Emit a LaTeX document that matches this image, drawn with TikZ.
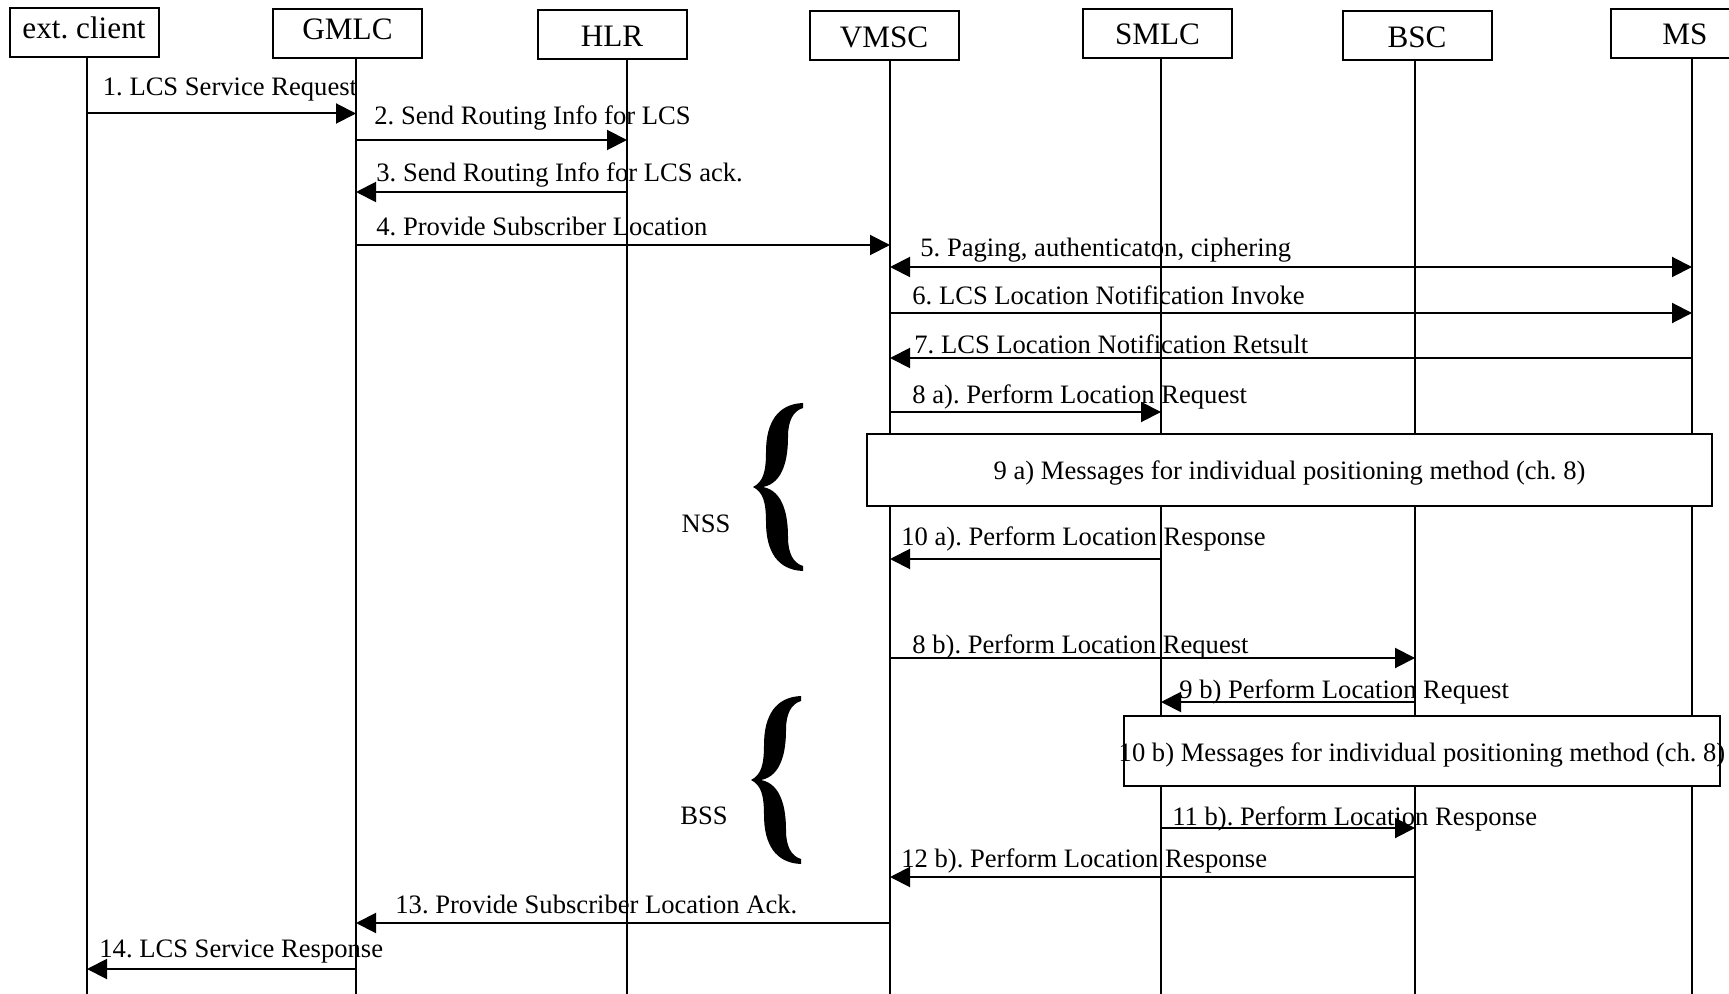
\documentclass[tikz,border=0pt]{standalone}
\usepackage{fontspec}
\setmainfont{Liberation Serif}
\usepackage{tikz}
\usetikzlibrary{arrows.meta}
\frenchspacing
\tikzstyle{head} = [rectangle, minimum width=74.5pt, minimum height=24.5pt, text centered, draw=black, line width=1pt, text height=13pt, text depth=1.5pt, font=\fontsize{15.6}{18}\selectfont]
\tikzstyle{life} = [line width=0.7pt]
\tikzstyle{msg} = [line width=1pt, -{Triangle[length=10pt, width=10pt]}]
\tikzstyle{both} = [line width=1pt, {Triangle[length=10pt, width=10pt]}-{Triangle[length=10pt, width=10pt]}]
\tikzstyle{msgtext} = [anchor=west, inner sep=0pt, yshift=-1.5pt, font=\fontsize{13.3}{16}\selectfont]
\tikzstyle{method} = [rectangle, draw=black, fill=white, line width=1pt]
\newcommand{\curlybrace}[1]{\fill[shift={(#1)}] (0,0) .. controls (10,-5) and (13,-15) .. (13,-35)
  .. controls (13,-65) and (25,-83) .. (50,-84) -- (50,-79) .. controls (40,-76) and (35,-66) .. (35,-50)
  .. controls (35,-30) and (31,-4) .. (10,0) .. controls (31,4) and (35,30) .. (35,50)
  .. controls (35,66) and (40,76) .. (50,79) -- (50,84) .. controls (25,83) and (13,65) .. (13,35)
  .. controls (13,15) and (10,5) .. (0,0) -- cycle;}
\begin{document}
\begin{tikzpicture}[x=0.5pt, y=-0.5pt]
    \useasboundingbox (0,0) rectangle (1729,994);

    \node(Client)[head] at (84,32.5) {\raisebox{2.7pt}{ext. client}};
    \node(GMLC)[head] at (347.5,33.5) {\raisebox{2.7pt}{GMLC}};
    \node(HLR)[head] at (612,35) {HLR};
    \node(VMSC)[head] at (884,36) {VMSC};
    \node(SMLC)[head] at (1157.5,33.5) {SMLC};
    \node(BSC)[head] at (1417,36) {BSC};
    \node(MS)[head] at (1685,33.5) {MS};

    \coordinate(lClient) at (87,0);
    \coordinate(lGMLC) at (356,0);
    \coordinate(lHLR) at (627,0);
    \coordinate(lVMSC) at (890,0);
    \coordinate(lSMLC) at (1161,0);
    \coordinate(lBSC) at (1415,0);
    \coordinate(lMS) at (1692,0);

    \foreach \n in {Client,GMLC,HLR,VMSC,SMLC,BSC,MS}
      \draw[life] (\n.south -| l\n) -- (l\n |- 0,994);

    \draw[msg] (lClient |- 0,113.5) -- (lGMLC |- 0,113.5);
    \node(m1)[msgtext] at (102.5,87) {1. LCS Service Request};

    \draw[msg] (lGMLC |- 0,140) -- (lHLR |- 0,140);
    \node(m2)[msgtext] at (374,115) {2. Send Routing Info for LCS};

    \draw[msg] (lHLR |- 0,192) -- (lGMLC |- 0,192);
    \node(m3)[msgtext] at (376,172) {3. Send Routing Info for LCS ack.};

    \draw[msg] (lGMLC |- 0,245) -- (lVMSC |- 0,245);
    \node(m4)[msgtext] at (376,223) {4. Provide Subscriber Location};

    \draw[both] (lVMSC |- 0,267) -- (lMS |- 0,267);
    \node(m5)[msgtext] at (920,247) {5. Paging, authenticaton, ciphering};

    \draw[msg] (lVMSC |- 0,313) -- (lMS |- 0,313);
    \node(m6)[msgtext] at (912,292) {6. LCS Location Notification Invoke};

    \draw[msg] (lMS |- 0,358) -- (lVMSC |- 0,358);
    \node(m7)[msgtext] at (914,341) {7. LCS Location Notification Retsult};

    \draw[msg] (lVMSC |- 0,412) -- (lSMLC |- 0,412);
    \node(m8a)[msgtext] at (912,394) {8 a). Perform Location Request};

    \node(Box9a)[method, minimum width=422.5pt, minimum height=36pt] at (1289.5,470) {};
    \node(m9a)[font=\fontsize{13.3}{16}\selectfont, yshift=-1.5pt] at (Box9a) {9 a) Messages for individual positioning method (ch. 8)};

    \draw[msg] (lSMLC |- 0,559) -- (lVMSC |- 0,559);
    \node(m10a)[msgtext] at (901,536) {10 a). Perform Location Response};

    \curlybrace{753,487}
    \node(NSS)[font=\fontsize{13.3}{16}\selectfont] at (706,524) {NSS};

    \draw[msg] (lVMSC |- 0,658) -- (lBSC |- 0,658);
    \node(m8b)[msgtext] at (912,644) {8 b). Perform Location Request};

    \draw[msg] (lBSC |- 0,702) -- (lSMLC |- 0,702);
    \node(m9b)[msgtext] at (1179,689) {9 b) Perform Location Request};

    \node(Box10b)[method, minimum width=298pt, minimum height=35pt] at (1422,751) {};
    \node(m10b)[font=\fontsize{13.3}{16}\selectfont, yshift=-2pt] at (Box10b) {10 b) Messages for individual positioning method (ch. 8)};

    \draw[msg] (lSMLC |- 0,828) -- (lBSC |- 0,828);
    \node(m11b)[msgtext] at (1172,816) {11 b). Perform Location Response};

    \draw[msg] (lBSC |- 0,877) -- (lVMSC |- 0,877);
    \node(m12b)[msgtext] at (901,858) {12 b). Perform Location Response};

    \curlybrace{751,780}
    \node(BSS)[font=\fontsize{13.3}{16}\selectfont] at (704,816) {BSS};

    \draw[msg] (lVMSC |- 0,923) -- (lGMLC |- 0,923);
    \node(m13)[msgtext] at (395,901) {13. Provide Subscriber Location Ack.};

    \draw[msg] (lGMLC |- 0,969) -- (lClient |- 0,969);
    \node(m14)[msgtext] at (99,949) {14. LCS Service Response};

\end{tikzpicture}
\end{document}
